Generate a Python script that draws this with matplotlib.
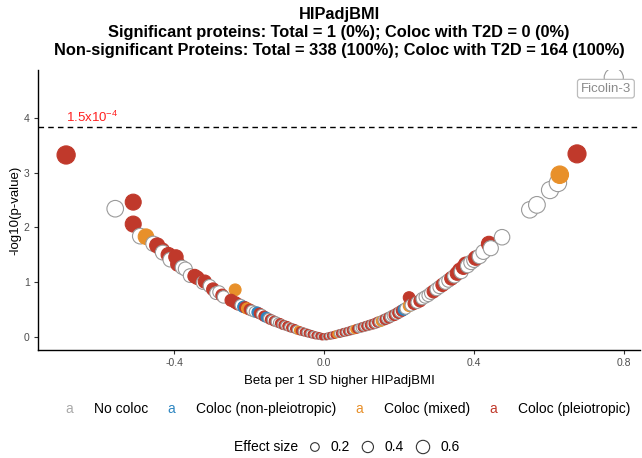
import matplotlib
matplotlib.use("Agg")
import matplotlib.pyplot as plt
import numpy as np
from matplotlib.offsetbox import TextArea, HPacker, AnchoredOffsetbox, DrawingArea
from matplotlib.patches import Circle

plt.rcParams['font.family'] = ['Liberation Sans', 'DejaVu Sans']
plt.rcParams['mathtext.default'] = 'regular'

# ---------------- data ----------------
beta = [
    -0.688, -0.557, -0.509, -0.509, -0.490, -0.475, -0.455, -0.445, -0.432, -0.430,
    -0.415, -0.410, -0.395, -0.390, -0.378, -0.370, -0.357, -0.345, -0.338, -0.323,
    -0.318, -0.305, -0.296, -0.288, -0.280, -0.272, -0.268, -0.237, -0.248, -0.237,
    -0.230, -0.222, -0.215, -0.210, -0.205, -0.198, -0.192, -0.185, -0.178, -0.172,
    -0.166, -0.160, -0.154, -0.148, -0.143, -0.138, -0.133, -0.128, -0.122, -0.117,
    -0.112, -0.108, -0.103, -0.098, -0.093, -0.088, -0.083, -0.078, -0.073, -0.068,
    -0.063, -0.058, -0.053, -0.048, -0.043, -0.038, -0.033, -0.028, -0.023, -0.018,
    -0.013, -0.008, -0.004,
    0.004, 0.008, 0.013, 0.018, 0.023, 0.028, 0.033, 0.038, 0.043, 0.048,
    0.053, 0.058, 0.063, 0.068, 0.073, 0.078, 0.083, 0.088, 0.093, 0.098,
    0.103, 0.108, 0.113, 0.118, 0.123, 0.128, 0.133, 0.138, 0.143, 0.148,
    0.153, 0.158, 0.163, 0.168, 0.173, 0.178, 0.183, 0.188, 0.193, 0.198,
    0.203, 0.208, 0.213, 0.218, 0.227, 0.227, 0.232, 0.240, 0.248, 0.256,
    0.262, 0.270, 0.278, 0.285, 0.292, 0.300, 0.308, 0.316, 0.324, 0.332,
    0.340, 0.348, 0.355, 0.362, 0.366, 0.372, 0.378, 0.383, 0.392, 0.400,
    0.405, 0.415, 0.425, 0.440, 0.445, 0.475, 0.549, 0.568, 0.603, 0.624,
    0.629, 0.675, 0.773,
]
neglog10p = [
    3.32, 2.34, 2.46, 2.06, 1.84, 1.83, 1.70, 1.67, 1.58, 1.54,
    1.50, 1.41, 1.46, 1.33, 1.27, 1.24, 1.12, 1.11, 1.08, 0.99,
    1.01, 0.93, 0.87, 0.80, 0.82, 0.76, 0.73, 0.86, 0.67, 0.63,
    0.60, 0.58, 0.55, 0.54, 0.52, 0.50, 0.48, 0.46, 0.45, 0.43,
    0.41, 0.38, 0.36, 0.34, 0.32, 0.31, 0.29, 0.28, 0.26, 0.25,
    0.23, 0.22, 0.21, 0.20, 0.18, 0.17, 0.16, 0.15, 0.13, 0.12,
    0.11, 0.10, 0.09, 0.08, 0.07, 0.06, 0.05, 0.04, 0.03, 0.025,
    0.02, 0.01, 0.005,
    0.005, 0.01, 0.02, 0.025, 0.03, 0.04, 0.05, 0.06, 0.065, 0.075,
    0.085, 0.09, 0.10, 0.11, 0.12, 0.13, 0.14, 0.15, 0.16, 0.17,
    0.18, 0.19, 0.20, 0.21, 0.22, 0.23, 0.24, 0.25, 0.27, 0.28,
    0.29, 0.31, 0.32, 0.34, 0.35, 0.37, 0.39, 0.40, 0.42, 0.44,
    0.46, 0.48, 0.50, 0.52, 0.57, 0.72, 0.58, 0.61, 0.63, 0.66,
    0.70, 0.73, 0.76, 0.80, 0.83, 0.87, 0.91, 0.95, 0.99, 1.03,
    1.07, 1.11, 1.16, 1.22, 1.19, 1.27, 1.33, 1.30, 1.36, 1.40,
    1.44, 1.47, 1.55, 1.70, 1.62, 1.82, 2.32, 2.41, 2.68, 2.81,
    2.96, 3.34, 4.73,
]
# N = No coloc, B = Coloc (non-pleiotropic), M = Coloc (mixed), P = Coloc (pleiotropic)
group = list(
    "PNPPNMNPPN"
    "PNPPNNNPPN"
    "PNPNNPNMPP"
    "PNBPMPNNBP"
    "NPBNPNPNNP"
    "NPNPNPNPNM"
    "PNPNPNPNPN"
    "PNP"
    "NPNPNPMNPN"
    "PNPNPNMPNN"
    "PNPNPNPNPN"
    "MNPNPNNPNP"
    "NPBNMPNPNP"
    "NNNNPNNPNN"
    "PNPPNPPNNN"
    "PNNPNNNNNN"
    "MPN"
)

group_labels = ["No coloc", "Coloc (non-pleiotropic)", "Coloc (mixed)", "Coloc (pleiotropic)"]
group_keys = ["N", "B", "M", "P"]
group_fill = {"N": "white", "B": "#2E86C1", "M": "#E8902A", "P": "#C0392B"}
group_edge = {"N": "#9a9a9a", "B": "#2E86C1", "M": "#E8902A", "P": "#C0392B"}
legend_text_color = {"N": "#aaaaaa", "B": "#2E86C1", "M": "#E8902A", "P": "#C0392B"}

threshold_p = 1.5e-4
label_name = "Ficolin-3"
label_index = len(beta) - 1
size_breaks = [0.2, 0.4, 0.6]

title = ("HIPadjBMI\n"
         "Significant proteins: Total = 1 (0%); Coloc with T2D = 0 (0%)\n"
         "Non-significant Proteins: Total = 338 (100%); Coloc with T2D = 164 (100%)")


def size_of(b):
    return 20 + 220 * abs(b)


# ---------------- figure ----------------
W, H = 642, 458
fig = plt.figure(figsize=(W / 100, H / 100), dpi=100)
ax = fig.add_axes([38 / W, 1 - 350 / H, (640 - 38) / W, (350 - 70) / H])

b_arr = np.array(beta)
y_arr = np.array(neglog10p)
g_arr = np.array(group)
fills = [group_fill[g] for g in g_arr]
edges = [group_edge[g] for g in g_arr]
sizes = [size_of(b) for b in b_arr]
ax.scatter(b_arr, y_arr, s=sizes, c=fills, edgecolors=edges, linewidths=0.8, zorder=3)

ax.axhline(-np.log10(threshold_p), color='black', lw=1.0, ls=(0, (4, 3)), zorder=2)
ax.text(-0.688, -np.log10(threshold_p) + 0.04, r"1.5x10$^{-4}$", color='#ff2020',
        fontsize=9.5, ha='left', va='bottom', zorder=4)

ax.text(beta[label_index] - 0.021, neglog10p[label_index] - 0.2, label_name,
        ha='center', va='center', fontsize=9.5, color='#8a8a8a', zorder=5,
        bbox=dict(boxstyle='round,pad=0.25,rounding_size=0.2', fc='white', ec='#bcbcbc', lw=0.9))

ax.set_xlim(-0.763, 0.843)
ax.set_ylim(-0.237, 4.87)
ax.set_xticks([-0.4, 0.0, 0.4, 0.8])
ax.set_xticklabels(["-0.4", "0.0", "0.4", "0.8"])
ax.set_yticks([0, 1, 2, 3, 4])
for s in ['top', 'right']:
    ax.spines[s].set_visible(False)
for s in ['left', 'bottom']:
    ax.spines[s].set_color('black')
    ax.spines[s].set_linewidth(1.0)
ax.tick_params(axis='both', length=3, width=0.8, color='#333333', labelsize=7.5,
               labelcolor='#4d4d4d', pad=3)
ax.set_xlabel("Beta per 1 SD higher HIPadjBMI", fontsize=9.5, labelpad=5)
ax.set_ylabel("-log10(p-value)", fontsize=9.5, labelpad=2)

title_lines = title.split("\n")
for i, line in enumerate(title_lines):
    fig.text(339 / W, 1 - (15 + 18 * i) / H, line, ha='center', va='center',
             fontsize=11.8, fontweight='bold')

# ---------------- legends ----------------
items = []
for k, lab in zip(group_keys, group_labels):
    a = TextArea("a", textprops=dict(color=legend_text_color[k], fontsize=10))
    t = TextArea(lab, textprops=dict(color='black', fontsize=10))
    items.append(HPacker(children=[a, t], sep=15, align='baseline'))
row1 = HPacker(children=items, sep=14, align='baseline')
ab1 = AnchoredOffsetbox(loc='center', child=row1, frameon=False,
                        bbox_to_anchor=(348 / W, 1 - 409 / H), bbox_transform=fig.transFigure,
                        pad=0, borderpad=0)
fig.add_artist(ab1)

items2 = [TextArea("Effect size", textprops=dict(color='black', fontsize=10))]
for v in size_breaks:
    d = np.sqrt(size_of(v)) * 0.78
    da = DrawingArea(d + 2, d + 2, 0, 0)
    da.add_artist(Circle((d / 2 + 1, d / 2 + 1), d / 2, fc='white', ec='#333333', lw=0.8))
    t = TextArea(f"{v:.1f}", textprops=dict(color='black', fontsize=10))
    items2.append(HPacker(children=[da, t], sep=7, align='center'))
row2 = HPacker(children=items2, sep=8, align='center')
ab2 = AnchoredOffsetbox(loc='center', child=row2, frameon=False,
                        bbox_to_anchor=(347 / W, 1 - 447 / H), bbox_transform=fig.transFigure,
                        pad=0, borderpad=0)
fig.add_artist(ab2)

fig.savefig("out.png", dpi=100)
